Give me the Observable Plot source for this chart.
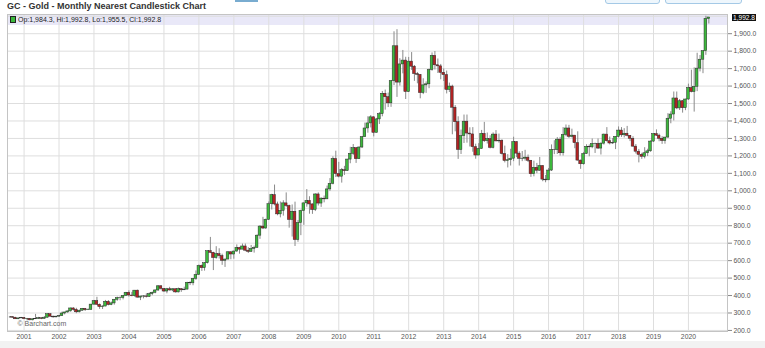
<!DOCTYPE html>
<html><head><meta charset="utf-8">
<script src="https://cdn.jsdelivr.net/npm/d3@7"></script>
<script src="https://cdn.jsdelivr.net/npm/@observablehq/plot@0.6"></script>
<style>
html,body{margin:0;padding:0;background:#fff;}
#wrap{position:relative;width:765px;height:348px;overflow:hidden;font-family:"Liberation Sans",Arial,sans-serif;}
#wrap > *{position:absolute;}
#band{left:7px;top:14px;width:720px;height:11px;background:#e9e8f8;}
#foot{left:0;top:341px;width:765px;height:7px;background:#f2f2f2;}
#chart{left:0;top:0;}
#title{left:7px;top:1px;font-weight:bold;font-size:9px;color:#333;white-space:nowrap;}
#legend{left:10px;top:15.5px;font-size:7px;color:#222;white-space:nowrap;line-height:8px;}
#legend span.sw{display:inline-block;width:4px;height:5px;background:#3cb83c;border:0.6px solid #222;margin-right:2px;vertical-align:-1px;}
#last{left:732px;background:#111;color:#fff;font-size:6.6px;line-height:7px;padding:0 1px;white-space:nowrap;}
.btn{top:-8px;height:10px;border:1px solid #a4c9e6;border-radius:3px;background:#eef6fc;}
#bar{left:235px;top:0;width:23px;height:2px;background:#79acd0;}
</style></head><body>
<div id="wrap">
  <div id="band"></div>
  <div id="foot"></div>
  <div id="chart"></div>
  <div id="bar"></div>
  <div class="btn" style="left:605px;width:53px"></div>
  <div class="btn" style="left:665px;width:75px"></div>
  <div id="title"></div>
  <div id="legend"></div>
  <div id="last"></div>
</div>
<script>
const titleText = "GC - Gold - Monthly Nearest Candlestick Chart";
const watermark = "© Barchart.com";
const firstMonth = "2000-08-01";
// monthly OHLC, Aug 2000 .. Aug 2020 (one line per year)
const open = [
277,277,273,264,269,
272,265,267,258,264,266,270,266,273,293,279,275,
279,282,297,303,309,326,318,304,313,324,316,318,
348,368,347,334,337,364,346,355,376,385,386,398,
416,400,396,428,388,394,395,392,408,416,429,453,
438,423,436,429,436,418,437,430,434,473,470,496,
518,570,557,585,654,645,615,637,626,599,606,648,
635,652,673,663,681,657,650,667,673,743,795,784,
834,923,975,922,865,885,928,913,833,880,718,815,
884,928,942,922,890,979,927,955,951,1008,1040,1182,
1096,1081,1118,1113,1179,1212,1244,1181,1248,1307,1357,1386,
1421,1332,1409,1439,1556,1536,1501,1628,1828,1620,1724,1746,
1566,1740,1711,1669,1664,1560,1604,1610,1692,1773,1719,1713,
1676,1663,1578,1597,1476,1393,1234,1313,1396,1328,1323,1250,
1202,1240,1326,1284,1296,1246,1322,1283,1287,1211,1171,1175,
1184,1279,1213,1183,1184,1190,1172,1095,1132,1115,1142,1064,
1060,1116,1234,1233,1293,1215,1320,1357,1309,1316,1273,1173,
1152,1211,1252,1249,1268,1269,1242,1270,1322,1284,1271,1275,
1309,1345,1318,1327,1315,1298,1253,1224,1206,1195,1215,1226,
1282,1325,1316,1298,1285,1305,1413,1437,1529,1472,1513,1473,
1523,1589,1566,1596,1700,1751,1800,1984.3
];
const high = [
280,277,275,271,275,
272,269,268,265,292,275,271,280,294,294,282,281,
285,305,304,311,328,330,327,317,326,326,324,349,
372,390,352,341,372,371,363,376,391,392,400,418,
427,418,429,431,396,400,410,415,420,433,457,457,
438,441,447,438,437,443,437,448,476,479,498,541,
575,575,589,655,733,648,680,668,637,609,650,649,
655,690,676,695,695,674,687,683,747,800,848,838,
936,980,1033,935,936,943,988,918,919,935,830,889,
931,1007,966,925,983,988,960,970,1027,1070,1195,1227,
1163,1128,1140,1180,1249,1265,1245,1252,1311,1388,1424,1431,
1424,1415,1448,1569,1577,1560,1632,1911,1923,1757,1804,1765,
1764,1792,1718,1678,1665,1642,1624,1697,1790,1798,1755,1724,
1698,1686,1617,1605,1488,1424,1348,1434,1434,1361,1362,1267,
1270,1346,1392,1331,1315,1332,1345,1325,1292,1256,1207,1238,
1307,1281,1224,1225,1232,1205,1174,1170,1157,1191,1144,1088,
1128,1263,1287,1305,1306,1362,1377,1375,1353,1317,1338,1176,
1220,1264,1263,1297,1273,1297,1275,1325,1362,1308,1300,1310,
1366,1362,1356,1369,1317,1310,1265,1237,1215,1247,1238,1286,
1326,1349,1325,1310,1306,1442,1453,1566,1566,1523,1517,1525,
1611,1691,1704,1788,1775,1801,2000,1992.8
];
const low = [
270,270,263,262,268,
262,255,256,255,264,264,262,265,271,275,270,272,
276,281,289,299,306,311,296,300,311,309,314,315,
344,345,321,320,336,341,342,345,367,370,375,396,
391,393,391,386,371,381,386,389,399,410,423,431,
418,410,426,422,414,415,418,429,433,457,456,487,
515,538,540,581,640,543,608,609,573,561,615,605,
608,648,637,663,651,641,648,643,671,722,778,779,
830,890,914,857,845,855,905,786,735,681,705,743,
802,906,866,865,881,913,905,931,950,997,1034,1076,
1074,1044,1088,1112,1155,1202,1157,1180,1242,1309,1330,1360,
1309,1331,1380,1424,1462,1477,1478,1603,1535,1600,1670,1523,
1563,1690,1627,1613,1527,1551,1558,1585,1685,1692,1672,1636,
1626,1555,1563,1321,1338,1180,1208,1271,1273,1251,1221,1181,
1202,1238,1277,1268,1240,1240,1281,1273,1205,1160,1131,1142,
1167,1190,1142,1167,1170,1162,1077,1080,1098,1112,1052,1046,
1062,1111,1207,1208,1199,1199,1310,1300,1303,1241,1171,1123,
1147,1209,1195,1241,1214,1237,1205,1262,1279,1263,1265,1236,
1303,1306,1303,1309,1282,1250,1211,1160,1180,1183,1196,1221,
1277,1311,1281,1266,1267,1300,1384,1400,1465,1460,1445,1459,
1518,1561,1451,1568,1681,1671,1776,1955.5
];
const close = [
277,273,264,269,272,
265,267,258,264,266,270,266,273,293,279,275,279,
282,297,303,309,326,318,304,313,324,316,318,348,
368,347,334,337,364,346,355,376,385,386,398,416,
400,396,428,388,394,395,392,408,416,429,453,438,
423,436,429,436,418,437,430,434,473,470,496,518,
570,557,585,654,645,615,637,626,599,606,648,635,
652,673,663,681,657,650,667,673,743,795,784,834,
923,975,922,865,885,928,913,833,880,718,815,884,
928,942,922,890,979,927,955,951,1008,1040,1182,1096,
1081,1118,1113,1179,1212,1244,1181,1248,1307,1357,1386,1421,
1332,1409,1439,1556,1536,1501,1628,1828,1620,1724,1746,1566,
1740,1711,1669,1664,1560,1604,1610,1692,1773,1719,1713,1676,
1663,1578,1597,1476,1393,1234,1313,1396,1328,1323,1250,1202,
1240,1326,1284,1296,1246,1322,1283,1287,1211,1171,1175,1184,
1279,1213,1183,1184,1190,1172,1095,1132,1115,1142,1064,1060,
1116,1234,1233,1293,1215,1320,1357,1309,1316,1273,1173,1152,
1211,1252,1249,1268,1269,1242,1270,1322,1284,1271,1275,1309,
1345,1318,1327,1315,1298,1253,1224,1206,1195,1215,1226,1282,
1325,1316,1298,1285,1305,1413,1437,1529,1472,1513,1473,1523,
1589,1566,1596,1700,1751,1800,1985,1992.8
];
const yTicks = [200,300,400,500,600,700,800,900,1000,1100,1200,1300,1400,1500,1600,1700,1800,1900];
const yGrid = [200,300,400,500,600,700,800,900,1000,1100,1200,1300,1400,1500,1600,1700,1800,1900,2000];
const yearTicks = [2001,2002,2003,2004,2005,2006,2007,2008,2009,2010,2011,2012,2013,2014,2015,2016,2017,2018,2019,2020];

const start = new Date(firstMonth + "T00:00:00Z");
const data = open.map((o, i) => ({
  date: d3.utcMonth.offset(start, i), o, h: high[i], l: low[i], c: close[i]
}));
const yearDates = yearTicks.map(y => new Date(Date.UTC(y, 0, 1)));
const fmt = d3.format(",.1f");
const up = "#3cb83c", down = "#b42323";

const chart = Plot.plot({
  width: 765, height: 348,
  marginTop: 14, marginBottom: 17, marginLeft: 7, marginRight: 38,
  style: {background: "transparent", fontFamily: "'Liberation Sans', Arial, sans-serif", fontSize: "6.8px", color: "#555"},
  x: {type: "utc", domain: [new Date(Date.UTC(2000, 6, 12)), new Date(Date.UTC(2021, 1, 12))]},
  y: {domain: [194, 2010]},
  marks: [
    Plot.gridX(yearDates, {stroke: "#dedede", strokeOpacity: 1}),
    Plot.gridY(yGrid, {stroke: "#dedede", strokeOpacity: 1}),
    Plot.frame({stroke: "#c4c4c4"}),
    Plot.axisX(yearDates, {tickSize: 0, tickPadding: 3, tickFormat: d3.utcFormat("%Y"), fill: "#555"}),
    Plot.axisY(yTicks, {anchor: "right", tickSize: 4, tickPadding: 2, tickFormat: fmt, stroke: "#888", fill: "#555"}),
    Plot.ruleX(data, {x: "date", y1: "l", y2: "h", stroke: "#8a8a8a", strokeWidth: 1}),
    Plot.rect(data, {
      x1: d => d3.utcDay.offset(d.date, -14), x2: d => d3.utcDay.offset(d.date, 14),
      y1: "o", y2: "c",
      fill: d => d.c >= d.o ? up : down, stroke: "#2a2a2a", strokeWidth: 0.5
    }),
    Plot.text([watermark], {frameAnchor: "bottom-left", dx: 10, dy: -6, fill: "#666", fontSize: 7, textAnchor: "start"})
  ]
});
document.getElementById("chart").appendChild(chart);

const lastBar = data[data.length - 1];
document.getElementById("title").textContent = titleText;
document.getElementById("legend").innerHTML = '<span class="sw"></span>' +
  `Op:${fmt(lastBar.o)}, Hi:${fmt(lastBar.h)}, Lo:${fmt(lastBar.l)}, Cl:${fmt(lastBar.c)}`;
const lastEl = document.getElementById("last");
lastEl.textContent = fmt(lastBar.c);
lastEl.style.top = (chart.scale("y").apply(lastBar.c) - 3.5) + "px";
</script>
</body></html>
